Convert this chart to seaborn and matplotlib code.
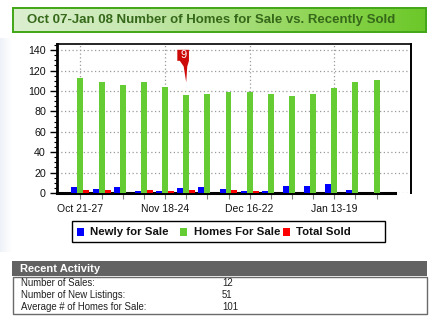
import numpy as np
import pandas as pd
import matplotlib
matplotlib.use("Agg")
import matplotlib.pyplot as plt
from matplotlib.patches import Rectangle, Polygon
from matplotlib.colors import LinearSegmentedColormap
import seaborn as sns

# ---- data -------------------------------------------------------------
weeks = ["Oct 21-27", "Oct 28-Nov 03", "Nov 04-10", "Nov 11-17", "Nov 18-24",
         "Nov 25-Dec 01", "Dec 02-08", "Dec 09-15", "Dec 16-22", "Dec 23-29",
         "Dec 30-Jan 05", "Jan 06-12", "Jan 13-19", "Jan 20-26", "Jan 27-Feb 02"]
newly_for_sale = [6, 4, 6, 2, 2, 5, 6, 4, 2, 2, 7, 7, 9, 3, 0]
homes_for_sale = [113, 109, 106, 109, 104, 96, 97, 99, 99, 97, 95, 97, 103, 109, 111]
total_sold = [3, 3, 0, 3, 2, 3, 0, 3, 2, 0, 0, 0, 0, 0, 0]

series_names = ["Newly for Sale", "Homes For Sale", "Total Sold"]
series_colors = ["#0000ff", "#66cc33", "#ff0000"]
labeled_weeks = ["Oct 21-27", "Nov 18-24", "Dec 16-22", "Jan 13-19"]
y_ticks = [0, 20, 40, 60, 80, 100, 120, 140]

callout_week = "Nov 25-Dec 01"
callout_text = "9"

title = "Oct 07-Jan 08 Number of Homes for Sale vs. Recently Sold"
activity_title = "Recent Activity"
activity_labels = ["Number of Sales:", "Number of New Listings:",
                   "Average # of Homes for Sale:"]
activity_values = ["12", "51", "101"]

df = pd.DataFrame({
    "week": weeks * 3,
    "series": np.repeat(series_names, len(weeks)),
    "count": newly_for_sale + homes_for_sale + total_sold,
})

# ---- figure -----------------------------------------------------------
plt.rcParams["font.family"] = ["Liberation Sans", "DejaVu Sans"]
W, H = 438, 325
fig = plt.figure(figsize=(W / 100, H / 100), dpi=100)
fig.patch.set_facecolor("white")

# pixel-space canvas for the page decorations
bg = fig.add_axes([0, 0, 1, 1])
bg.set_zorder(0)
bg.axis("off")

ax = fig.add_axes([57 / W, 1 - 193 / H, (411 - 57) / W, (193 - 44) / H])
ax.set_zorder(2)

sns.barplot(data=df, x="week", y="count", hue="series", order=weeks,
            hue_order=series_names, palette=dict(zip(series_names, series_colors)),
            saturation=1, width=0.85, legend=False, ax=ax, zorder=3)

ax.set_xlim(-1.11, 15.63)
ax.set_ylim(0, 146)
ax.set_xlabel("")
ax.set_ylabel("")

grid_kw = dict(color="#9a9a9a", linewidth=0.9, linestyle=(0, (1, 2)))
ax.set_yticks(y_ticks)
ax.set_yticks(np.arange(0, 146, 5), minor=True)
ax.yaxis.grid(True, which="major", **grid_kw)
ax.set_axisbelow(True)
for w in labeled_weeks:
    ax.axvline(weeks.index(w), zorder=0.5, **grid_kw)

ax.set_xticks(range(len(weeks)))
ax.set_xticklabels([w if w in labeled_weeks else "" for w in weeks])
ax.tick_params(axis="x", length=4, width=0.8, color="#808080", pad=4,
               labelsize=7.5, labelcolor="#111111")
ax.tick_params(axis="y", which="major", length=5, width=1, color="black", pad=3,
               labelsize=7.7, labelcolor="#111111")
ax.tick_params(axis="y", which="minor", length=2.5, width=0.8, color="black")

for side, lw in [("left", 2.0), ("bottom", 2.2), ("top", 1.2), ("right", 1.4)]:
    ax.spines[side].set_linewidth(lw)
    ax.spines[side].set_color("black")
ax.spines["bottom"].set_bounds(-1.11, 14.88)

# callout balloon
cx = weeks.index(callout_week)
balloon = Polygon([(cx - 0.42, 129.5), (cx - 0.42, 140.3), (cx + 0.13, 140.3),
                   (cx + 0.13, 129.5), (cx + 0.05, 124), (cx, 108.5),
                   (cx - 0.12, 124), (cx - 0.3, 129.5)],
                  closed=True, facecolor="#cc0a0a", edgecolor="none",
                  zorder=6, clip_on=False)
ax.add_patch(balloon)
ax.text(cx - 0.145, 135, callout_text, color="white", fontsize=8,
        ha="center", va="center", zorder=7)

# ---- title banner -----------------------------------------------------
bg.add_patch(Rectangle((12, 7), 415, 26, facecolor="#44a81a", edgecolor="none"))
grad = np.linspace(0, 1, 256).reshape(1, -1)
banner_cmap = LinearSegmentedColormap.from_list(
    "banner", [(0, "#dcefd0"), (0.3, "#c6e8b0"), (0.75, "#8cd450"), (1, "#6cc82a")])
bg.imshow(grad, extent=(14, 425, 31, 9), cmap=banner_cmap, aspect="auto",
          interpolation="bilinear", zorder=1)
bg.text(27, 20.5, title, fontsize=9.5, fontweight="bold", color="#36681a",
        ha="left", va="center", zorder=2)

# faint page edge
edge = np.linspace(1, 0, 64).reshape(1, -1)
edge_cmap = LinearSegmentedColormap.from_list("edge", ["white", "#eef2f8"])
bg.imshow(edge, extent=(0, 12, 252, 38), cmap=edge_cmap, aspect="auto",
          interpolation="bilinear", zorder=0.5)

# ---- legend -----------------------------------------------------------
bg.add_patch(Rectangle((72, 221), 313, 21, facecolor="white",
                       edgecolor="black", linewidth=1.0, zorder=2))
legend_x = [(77, 90.5), (180, 193.5), (283, 296.5)]
for (sx, tx), name, col in zip(legend_x, series_names, series_colors):
    bg.add_patch(Rectangle((sx, 228), 7, 7.5, facecolor=col, edgecolor="none", zorder=3))
    bg.text(tx, 232, name, fontsize=8.2, fontweight="bold", color="#111111",
            ha="left", va="center", zorder=3)

# ---- recent activity panel -------------------------------------------
bg.add_patch(Rectangle((12, 261), 415, 15, facecolor="#626262", edgecolor="none"))
bg.text(20, 268.8, activity_title, fontsize=8.0, fontweight="bold", color="white",
        ha="left", va="center")
bg.add_patch(Rectangle((12.5, 277), 414, 37, facecolor="white",
                       edgecolor="#6a6a6a", linewidth=1.0))
for i, (lab, val) in enumerate(zip(activity_labels, activity_values)):
    y = 283.5 + i * 11.5
    bg.text(21, y, lab, fontsize=6.9, color="#222222", ha="left", va="center")
    bg.text(222, y, val, fontsize=6.9, color="#222222", ha="left", va="center")

bg.set_xlim(0, W)
bg.set_ylim(H, 0)

fig.savefig("out.png", dpi=100, facecolor="white")
